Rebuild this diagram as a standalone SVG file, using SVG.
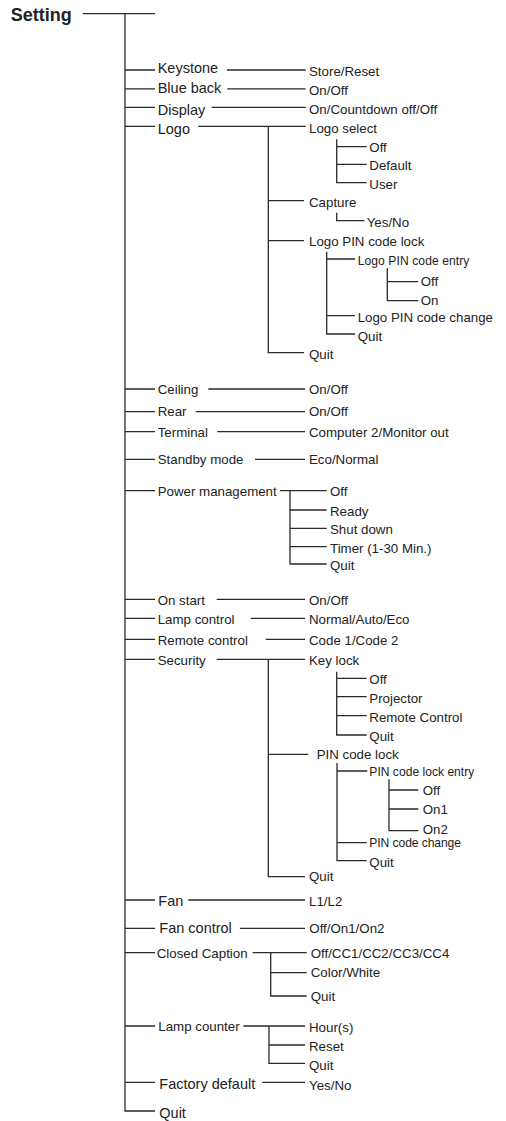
<svg xmlns="http://www.w3.org/2000/svg" width="506" height="1121" viewBox="0 0 506 1121">
<style>
text{font-family:"Liberation Sans",Arial,sans-serif;fill:#222;font-size:13.3px}
.b{font-weight:bold;font-size:19px}
.l{font-size:14.5px}
.s{font-size:12.1px}
#connectors path{fill:none;stroke:#2a2a2a;stroke-width:1.3}
</style>
<rect width="506" height="1121" fill="#fff"/>
<g id="connectors">
<path d="M82.7 13.7H155M125 13.7V1111H155"/>
<path d="M125 70H155M227 70H305.7"/>
<path d="M125 88.9H155M227.3 88.9H305.7"/>
<path d="M125 107.3H155M211.7 107.3H305.7"/>
<path d="M125 126.3H155M198.3 126.3H305.7M268.3 126.3V352.7H304"/>
<path d="M336.7 139.3V182.7H366.7M336.7 146.7H366.7M336.7 164.3H366.7"/>
<path d="M268.3 200.7H304M336.7 212.7V220.7H364.3"/>
<path d="M268.3 240.7H304M326.7 251.7V334H355M326.7 259H355M326.7 315.7H355"/>
<path d="M387.3 268.3V300.7H418.3M387.3 281.7H418.3"/>
<path d="M125 389H155M208.3 389H305"/>
<path d="M125 411.7H155M195.7 411.7H305"/>
<path d="M125 431.7H155M217.3 431.7H305"/>
<path d="M125 459.3H155M255 459.3H305"/>
<path d="M125 490.7H155M280 490.7H326.7M290 490.7V564H326.7M290 510H326.7M290 528.3H326.7M290 546.7H326.7"/>
<path d="M125 599.3H155M216.7 599.3H305"/>
<path d="M125 618.3H155M250.7 618.3H305"/>
<path d="M125 639.3H155M265.7 639.3H305"/>
<path d="M125 659.3H155M216.7 659.3H305M268.3 659.3V876.7H305"/>
<path d="M336.7 671.7V735H366.7M336.7 678.3H366.7M336.7 696.7H366.7M336.7 715.7H366.7"/>
<path d="M268.3 754.3H308.3M337 763V860.7H366.7M337 771H367.3M337 842.7H366.7"/>
<path d="M389 779.3V830.7H418.3M389 790H418.3M389 809H418.3"/>
<path d="M125 900H155M188.3 900H305"/>
<path d="M125 928.3H155M240 928.3H305"/>
<path d="M125 952.7H155M252.7 952.7H306.7M270.7 952.7V996H306.7M270.7 972.7H306.7"/>
<path d="M125 1026H155M243.3 1026H305M269 1026V1063.3H305M269 1045H305"/>
<path d="M125 1082.3H155M262.3 1082.3H305"/>
</g>
<g id="n-setting"><text class="b" x="10.7" y="20.7" textLength="61" lengthAdjust="spacingAndGlyphs">Setting</text></g>
<g id="n-keystone"><text class="l" x="157.7" y="73.3">Keystone</text><text x="309" y="76">Store/Reset</text></g>
<g id="n-blueback"><text class="l" x="157.7" y="93.3">Blue back</text><text x="309" y="95">On/Off</text></g>
<g id="n-display"><text class="l" x="157.7" y="114.5">Display</text><text x="309" y="114">On/Countdown off/Off</text></g>
<g id="n-logo"><text class="l" x="157.7" y="134">Logo</text><text x="309" y="132.5">Logo select</text>
<text x="369.3" y="151.7">Off</text><text x="369.3" y="170.3">Default</text><text x="369.3" y="188.7">User</text>
<text x="309" y="207">Capture</text><text x="366.7" y="226.5">Yes/No</text>
<text x="309" y="245.5">Logo PIN code lock</text>
<text class="s" x="357.7" y="265" textLength="111.7">Logo PIN code entry</text>
<text x="420.7" y="285.5">Off</text><text x="420.7" y="305">On</text>
<text x="357.7" y="321.5">Logo PIN code change</text><text x="357.7" y="340.5">Quit</text>
<text x="309" y="359">Quit</text></g>
<g id="n-ceiling"><text x="157.7" y="394">Ceiling</text><text x="309" y="394">On/Off</text></g>
<g id="n-rear"><text x="157.7" y="416">Rear</text><text x="309" y="416">On/Off</text></g>
<g id="n-terminal"><text x="157.7" y="436.5">Terminal</text><text x="309" y="436.5">Computer 2/Monitor out</text></g>
<g id="n-standby"><text x="157.7" y="464">Standby mode</text><text x="309" y="464">Eco/Normal</text></g>
<g id="n-power"><text x="157.7" y="495.5" textLength="119">Power management</text>
<text x="330" y="495.5">Off</text><text x="330" y="516">Ready</text><text x="330" y="534">Shut down</text><text x="330" y="552.5">Timer (1-30 Min.)</text><text x="330" y="570">Quit</text></g>
<g id="n-onstart"><text x="157.7" y="605">On start</text><text x="309" y="605">On/Off</text></g>
<g id="n-lamp"><text x="157.7" y="624">Lamp control</text><text x="309" y="624">Normal/Auto/Eco</text></g>
<g id="n-remote"><text x="157.7" y="645">Remote control</text><text x="309" y="645">Code 1/Code 2</text></g>
<g id="n-security"><text x="157.7" y="665">Security</text><text x="309" y="665">Key lock</text>
<text x="369.3" y="684">Off</text><text x="369.3" y="703">Projector</text><text x="369.3" y="722">Remote Control</text><text x="369.3" y="740.5">Quit</text>
<text x="316.7" y="759">PIN code lock</text>
<text class="s" x="369.3" y="775.7" textLength="105">PIN code lock entry</text>
<text x="422.7" y="795">Off</text><text x="422.7" y="814">On1</text><text x="422.7" y="833.5">On2</text>
<text class="s" x="369.3" y="847.3" textLength="91.7">PIN code change</text><text x="369.3" y="866.5">Quit</text>
<text x="309" y="881">Quit</text></g>
<g id="n-fan"><text class="l" x="158.3" y="906">Fan</text><text x="309" y="906">L1/L2</text></g>
<g id="n-fancontrol"><text class="l" x="159.3" y="932.7">Fan control</text><text x="309.3" y="933.3">Off/On1/On2</text></g>
<g id="n-cc"><text x="156.7" y="958.3">Closed Caption</text><text x="310.7" y="958.3">Off/CC1/CC2/CC3/CC4</text><text x="310.7" y="977.3">Color/White</text><text x="310.7" y="1000.7">Quit</text></g>
<g id="n-lampcounter"><text x="158.3" y="1031">Lamp counter</text><text x="309" y="1031.7">Hour(s)</text><text x="309" y="1050.7">Reset</text><text x="309" y="1070">Quit</text></g>
<g id="n-factory"><text class="l" x="159.3" y="1089">Factory default</text><text x="309" y="1090">Yes/No</text></g>
<g id="n-quit"><text class="l" x="159.3" y="1118">Quit</text></g>
</svg>
